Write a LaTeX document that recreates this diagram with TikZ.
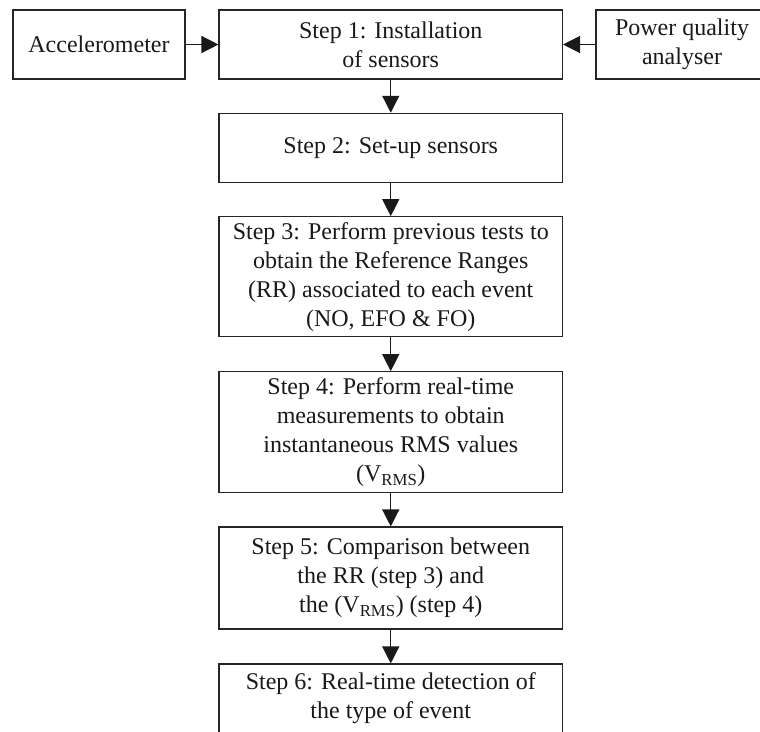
\documentclass[tikz,border=0pt]{standalone}
\usepackage{fontspec}
\setmainfont{Liberation Serif}
\usetikzlibrary{arrows.meta}
\begin{document}
\begin{tikzpicture}[x=1pt,y=-1pt,
  box/.style={draw=black!85, line width=1.1pt, rectangle, inner sep=0pt, align=center,
    text=black!90, font=\fontsize{24}{29}\selectfont},
  arr/.style={draw=black!90, line width=1.3pt, -{Triangle[length=17pt,width=17pt]}}]
\useasboundingbox (0,0) rectangle (760,731);
\clip (0,0) rectangle (760,731);
\node[box, minimum width=172pt, minimum height=69pt] (acc) at (99,44.5) {Accelerometer};
\node[box, minimum width=343.5pt, minimum height=69pt] (s1) at (390.75,44.5) {Step 1: Installation\\of sensors};
\node[box, minimum width=172pt, minimum height=69pt] (pq) at (682,44.5) {Power quality\\analyser};
\node[box, minimum width=343.5pt, minimum height=69pt] (s2) at (390.75,147.8) {Step 2: Set-up sensors};
\node[box, minimum width=343.5pt, minimum height=120pt] (s3) at (390.75,276.7) {Step 3: Perform previous tests to\\obtain the Reference Ranges\\(RR) associated to each event\\(NO, EFO \& FO)};
\node[box, minimum width=343.5pt, minimum height=120.6pt] (s4) at (390.75,432) {Step 4: Perform real-time\\measurements to obtain\\instantaneous RMS values\\(V\textsubscript{RMS})};
\node[box, minimum width=343.5pt, minimum height=102pt] (s5) at (390.75,578) {Step 5: Comparison between\\the RR (step 3) and\\the (V\textsubscript{RMS}) (step 4)};
\node[box, minimum width=343.5pt, minimum height=69pt] (s6) at (390.75,698.5) {Step 6: Real-time detection of\\the type of event};
\draw[arr] (acc) -- (s1);
\draw[arr] (pq) -- (s1);
\draw[arr] (s1) -- (s2);
\draw[arr] (s2) -- (s3);
\draw[arr] (s3) -- (s4);
\draw[arr] (s4) -- (s5);
\draw[arr] (s5) -- (s6);
\end{tikzpicture}
\end{document}
